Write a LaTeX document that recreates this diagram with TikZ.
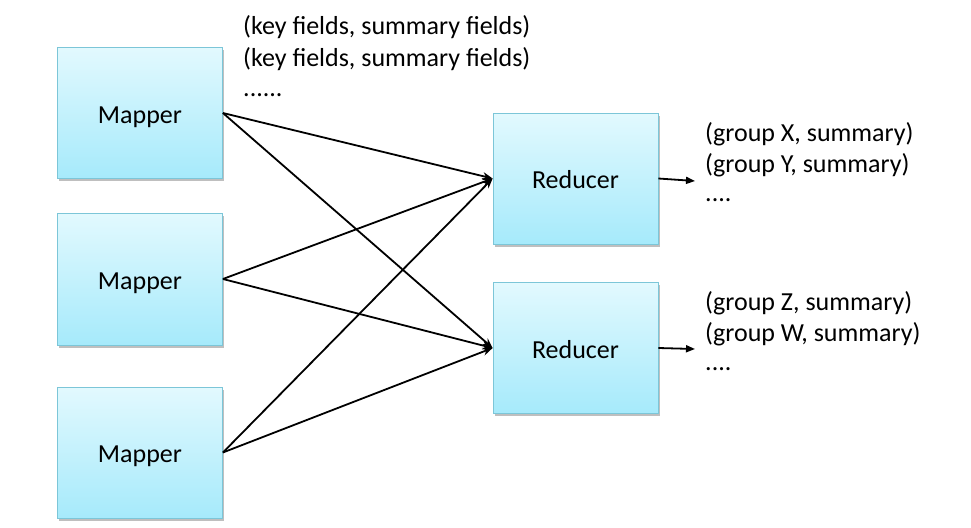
\documentclass[tikz,border=0pt]{standalone}
\usepackage{fontspec}
\setmainfont{Carlito}
\usetikzlibrary{arrows.meta,shadows}
\definecolor{boxtop}{HTML}{E2F9FE}
\definecolor{boxbot}{HTML}{A6EAFB}
\definecolor{boxline}{HTML}{7CC6D8}
\tikzset{
  procbox/.style={rectangle, draw=boxline, line width=0.8pt, top color=boxtop, bottom color=boxbot,
    minimum width=165pt, minimum height=131pt, inner sep=0pt,
    text height=20pt, text depth=0pt,
    font=\fontsize{26}{30}\selectfont,
    drop shadow={shadow xshift=1.5pt, shadow yshift=-2.5pt, opacity=0.25, fill=black}},
  link/.style={line width=1.8pt, -{Stealth[length=10pt,width=8pt]}},
  outlink/.style={line width=1.8pt, -{Triangle[length=9pt,width=7pt]}},
  lbl/.style={anchor=west, inner sep=0pt, font=\fontsize{26}{30}\selectfont}
}
\begin{document}
\begin{tikzpicture}[x=1pt,y=-1pt]
\useasboundingbox (0,0) rectangle (971,527);
\node[procbox] (m1) at (140,113) {Mapper};
\node[procbox, minimum height=132pt] (m2) at (140,279) {Mapper};
\node[procbox] (m3) at (140,452.5) {Mapper};
\node[procbox] (r1) at (575.5,178.5) {Reducer};
\node[procbox] (r2) at (575.5,348) {Reducer};
\foreach \m in {m1,m2,m3}{
  \draw[link] (\m.east) -- (r1.west);
  \draw[link] (\m.east) -- (r2.west);
}
\coordinate (o1) at (695,181);
\coordinate (o2) at (695,349);
\draw[outlink] (r1.east) -- (o1);
\draw[outlink] (r2.east) -- (o2);
\node[lbl] (k1) at (243,27) {(key fields, summary fields)};
\node[lbl] (k2) at (243,59) {(key fields, summary fields)};
\node[lbl] (k3) at (243,95) {......};
\node[lbl] (g1) at (705,134) {(group X, summary)};
\node[lbl] (g2) at (705,165) {(group Y, summary)};
\node[lbl] (g3) at (705,200) {....};
\node[lbl] (g4) at (705,303) {(group Z, summary)};
\node[lbl] (g5) at (705,334) {(group W, summary)};
\node[lbl] (g6) at (705,369) {....};
\end{tikzpicture}
\end{document}
